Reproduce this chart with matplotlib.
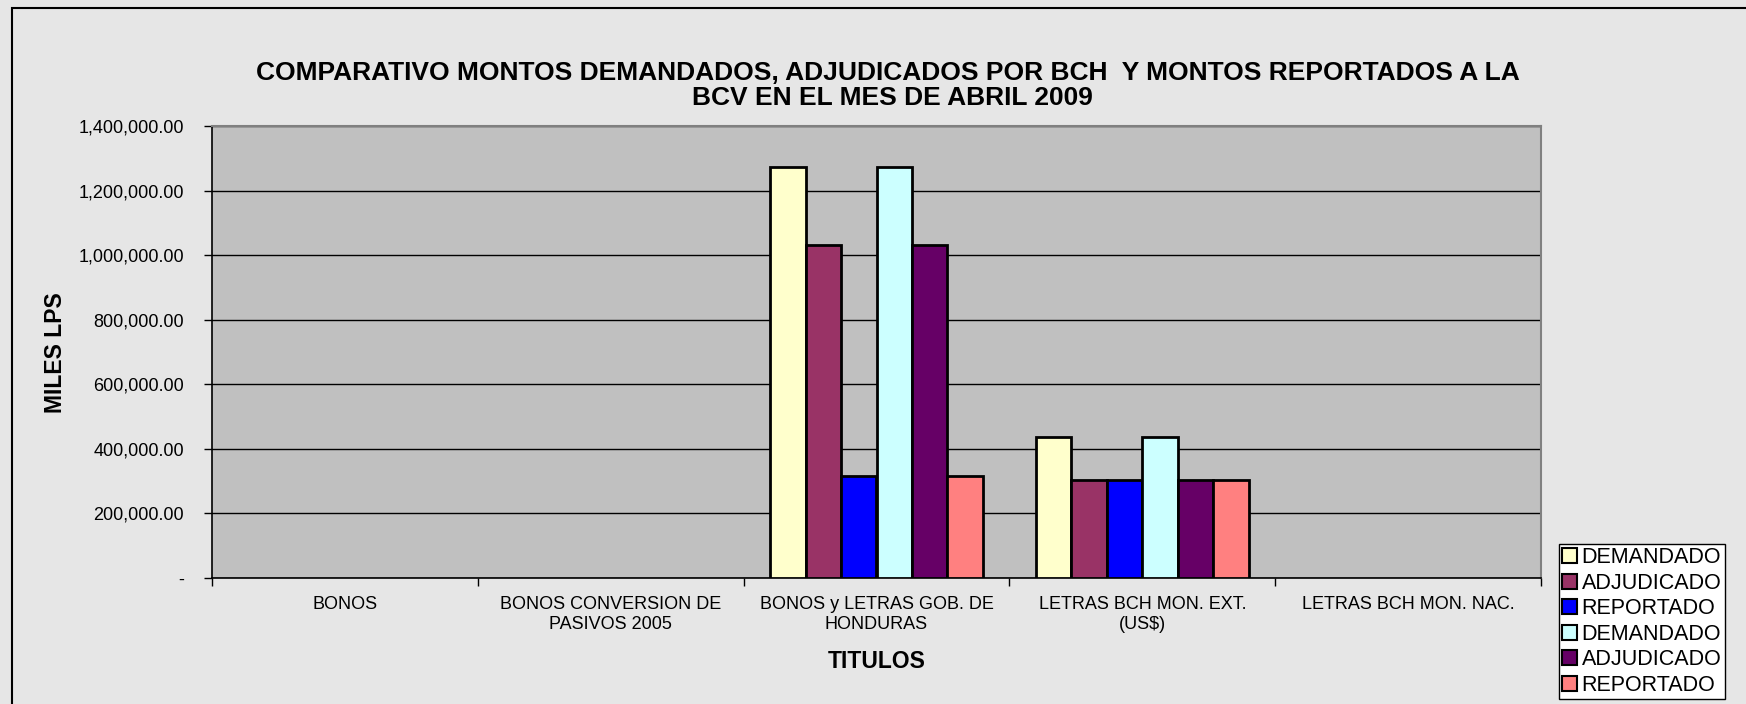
import numpy as np
import matplotlib
matplotlib.use("Agg")
import matplotlib.pyplot as plt
from matplotlib.patches import Rectangle, Patch
from matplotlib.ticker import FuncFormatter, MultipleLocator

plt.rcParams['font.family'] = ['Liberation Sans', 'DejaVu Sans']

categories = ["BONOS", "BONOS CONVERSION DE\nPASIVOS 2005", "BONOS y LETRAS GOB. DE\nHONDURAS",
              "LETRAS BCH MON. EXT.\n(US$)", "LETRAS BCH MON. NAC."]
series_names = ["DEMANDADO", "ADJUDICADO", "REPORTADO", "DEMANDADO", "ADJUDICADO", "REPORTADO"]
demandado_1 = [0, 0, 1272000, 436500, 0]
adjudicado_1 = [0, 0, 1030000, 302500, 0]
reportado_1 = [0, 0, 315000, 302500, 0]
demandado_2 = [0, 0, 1272000, 436500, 0]
adjudicado_2 = [0, 0, 1030000, 302500, 0]
reportado_2 = [0, 0, 315000, 302500, 0]
series_values = [demandado_1, adjudicado_1, reportado_1, demandado_2, adjudicado_2, reportado_2]
colors = ["#FFFFCC", "#993366", "#0000FF", "#CCFFFF", "#660066", "#FF8080"]
title_lines = ["COMPARATIVO MONTOS DEMANDADOS, ADJUDICADOS POR BCH  Y MONTOS REPORTADOS A LA",
               "BCV EN EL MES DE ABRIL 2009"]

W, H = 1746, 704
fig = plt.figure(figsize=(W / 100, H / 100), dpi=100)
fig.patch.set_facecolor("#e6e6e6")

# chart area border (only top/left visible)
fig.patches.append(Rectangle((12 / W, -0.1), 1.2, 1 - 8 / H + 0.1, transform=fig.transFigure,
                             fill=False, edgecolor="black", linewidth=1.5, zorder=0))

left, right, top, bottom = 212 / W, 1541 / W, 1 - 126 / H, 1 - 578 / H
ax = fig.add_axes([left, bottom, right - left, top - bottom])
ax.set_facecolor("#c0c0c0")

n = len(series_values)
x = np.arange(len(categories))
group = 0.8
bw = group / n
for i, (vals, c) in enumerate(zip(series_values, colors)):
    pos = x - group / 2 + bw * (i + 0.5)
    vals = np.array(vals, dtype=float)
    mask = vals > 0
    ax.bar(pos[mask], vals[mask], width=bw, color=c, edgecolor="black", linewidth=2.0, zorder=3)

ax.set_xlim(-0.5, len(categories) - 0.5)
ax.set_ylim(0, 1400000)
ax.yaxis.set_major_locator(MultipleLocator(200000))
ax.yaxis.set_major_formatter(FuncFormatter(lambda v, p: "-" if v == 0 else f"{v:,.2f}"))
ax.grid(axis="y", color="black", linewidth=1.0, zorder=1)
ax.set_axisbelow(True)

ax.set_xticks(x)
ax.set_xticklabels(categories, fontsize=13, linespacing=1.25)
ax.tick_params(axis="x", length=0, pad=13)
ax.set_xticks(np.arange(-0.5, len(categories)), minor=True)
ax.tick_params(axis="x", which="minor", length=6, direction="out", width=1, color="black")
ax.tick_params(axis="y", labelsize=13, length=6, direction="out", width=1, pad=14)

for s in ["top", "right"]:
    ax.spines[s].set_color("#808080")
    ax.spines[s].set_linewidth(1.5)
for s in ["left", "bottom"]:
    ax.spines[s].set_color("black")
    ax.spines[s].set_linewidth(1.2)

ax.set_xlabel("TITULOS", fontsize=16.5, fontweight="bold")
ax.xaxis.set_label_coords(0.5, -(662 - 578) / (578 - 126))
ax.xaxis.label.set_va("center")
ax.set_ylabel("MILES LPS", fontsize=16.5, fontweight="bold")
ax.yaxis.set_label_coords((55 - 212) / (1541 - 212), (578 - 353) / (578 - 126))
ax.yaxis.label.set_va("center")

fig.text(888 / W, 1 - 73 / H, title_lines[0], ha="center", va="center", fontsize=19, fontweight="bold")
fig.text(892 / W, 1 - 98 / H, title_lines[1], ha="center", va="center", fontsize=19, fontweight="bold")

handles = [Patch(facecolor=c, edgecolor="black", linewidth=1.5) for c in colors]
leg = fig.legend(handles, series_names, loc="upper left", bbox_to_anchor=(1559 / W, 1 - 544 / H),
                 fontsize=15.5, frameon=True, fancybox=False, edgecolor="black", facecolor="white",
                 handlelength=0.7, handleheight=0.7, handletextpad=0.2, labelspacing=0.21,
                 borderpad=0.15, borderaxespad=0, framealpha=1)
leg.get_frame().set_linewidth(1.0)

fig.savefig("out.png", dpi=100, facecolor=fig.get_facecolor())
